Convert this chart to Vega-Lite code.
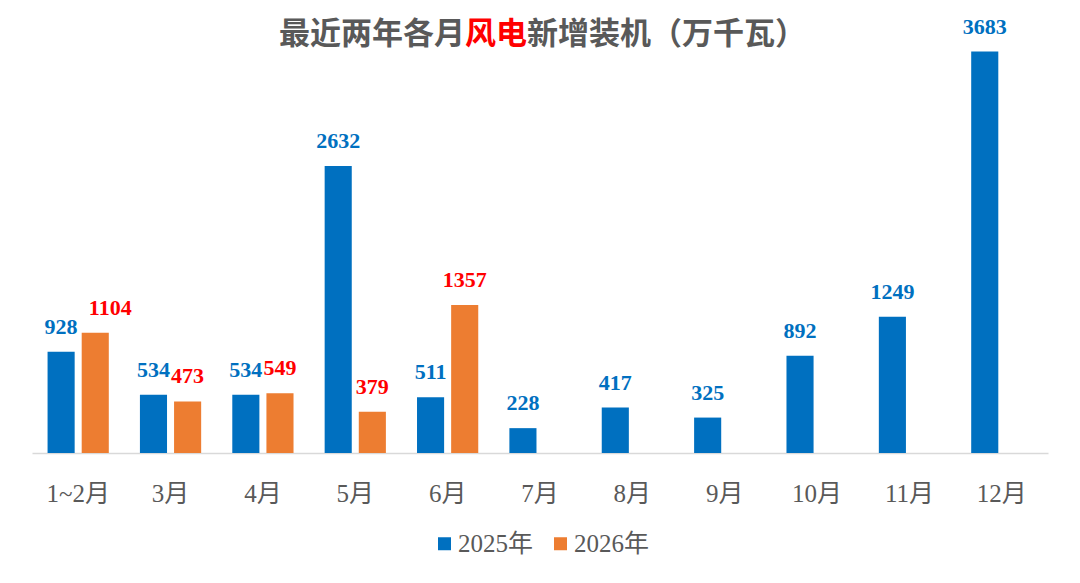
{
  "$schema": "https://vega.github.io/schema/vega-lite/v6.json",
  "width": 1016,
  "height": 436,
  "autosize": {"type": "none"},
  "padding": {"left": 32, "top": 17, "right": 32, "bottom": 130},
  "background": "white",
  "config": {"view": {"stroke": null}},
  "datasets": {
    "bars": [
      {"month": "1~2月", "series": "2025年", "value": 928},
      {"month": "1~2月", "series": "2026年", "value": 1104},
      {"month": "3月", "series": "2025年", "value": 534},
      {"month": "3月", "series": "2026年", "value": 473},
      {"month": "4月", "series": "2025年", "value": 534},
      {"month": "4月", "series": "2026年", "value": 549},
      {"month": "5月", "series": "2025年", "value": 2632},
      {"month": "5月", "series": "2026年", "value": 379},
      {"month": "6月", "series": "2025年", "value": 511},
      {"month": "6月", "series": "2026年", "value": 1357},
      {"month": "7月", "series": "2025年", "value": 228},
      {"month": "8月", "series": "2025年", "value": 417},
      {"month": "9月", "series": "2025年", "value": 325},
      {"month": "10月", "series": "2025年", "value": 892},
      {"month": "11月", "series": "2025年", "value": 1249},
      {"month": "12月", "series": "2025年", "value": 3683}
    ]
  },
  "layer": [
    {
      "data": {"name": "bars"},
      "mark": {"type": "bar"},
      "encoding": {
        "x": {
          "field": "month", "type": "nominal", "sort": null,
          "scale": {"paddingInner": 0, "paddingOuter": 0},
          "axis": {
            "title": null, "labelAngle": 0, "ticks": false, "grid": false,
            "domainColor": "#D9D9D9", "domainWidth": 1.5,
            "labelFont": "Liberation Serif, Noto Sans CJK SC",
            "labelFontSize": 25, "labelColor": "#595959", "labelPadding": 28
          }
        },
        "xOffset": {
          "field": "series", "type": "nominal",
          "scale": {"domain": ["2025年", "2026年"], "paddingInner": 0.206, "paddingOuter": 0.456}
        },
        "y": {
          "field": "value", "type": "quantitative",
          "scale": {"domain": [0, 4000], "nice": false},
          "axis": null
        },
        "color": {
          "field": "series", "type": "nominal",
          "scale": {"domain": ["2025年", "2026年"], "range": ["#0070C0", "#ED7D31"]},
          "legend": {
            "title": null, "orient": "none", "legendX": 400, "legendY": 514,
            "direction": "horizontal", "padding": 0,
            "symbolType": "square", "symbolSize": 169, "symbolStrokeWidth": 0,
            "labelFont": "Liberation Serif, Noto Sans CJK SC", "labelFontSize": 25,
            "labelColor": "#595959", "labelOffset": 1, "columnPadding": 14
          }
        }
      }
    },
    {
      "data": {"name": "bars"},
      "transform": [{"filter": "!(datum.month === '1~2月' && datum.series === '2026年')"}],
      "mark": {
        "type": "text", "baseline": "bottom", "dy": -13,
        "font": "Liberation Serif", "fontWeight": "bold", "fontSize": 22
      },
      "encoding": {
        "x": {"field": "month", "type": "nominal", "sort": null},
        "xOffset": {"field": "series", "type": "nominal"},
        "y": {"field": "value", "type": "quantitative"},
        "text": {"field": "value", "type": "quantitative"},
        "color": {
          "condition": {"test": "datum.series === '2025年'", "value": "#0070C0"},
          "value": "#FF0000"
        }
      }
    },
    {
      "data": {"name": "bars"},
      "transform": [{"filter": "datum.month === '1~2月' && datum.series === '2026年'"}],
      "mark": {
        "type": "text", "baseline": "bottom", "dy": -13, "dx": 15,
        "font": "Liberation Serif", "fontWeight": "bold", "fontSize": 22, "color": "#FF0000"
      },
      "encoding": {
        "x": {"field": "month", "type": "nominal", "sort": null},
        "xOffset": {"field": "series", "type": "nominal"},
        "y": {"field": "value", "type": "quantitative"},
        "text": {"field": "value", "type": "quantitative"}
      }
    },
    {
      "data": {"values": [{"t": "最近两年各月"}]},
      "mark": {
        "type": "text", "align": "right", "baseline": "middle", "dx": -75,
        "font": "Noto Sans CJK SC", "fontWeight": "bold", "fontSize": 31, "color": "#595959"
      },
      "encoding": {
        "x": {"datum": "7月"},
        "y": {"datum": 3835},
        "text": {"field": "t"}
      }
    },
    {
      "data": {"values": [{"t": "风电"}]},
      "mark": {
        "type": "text", "align": "center", "baseline": "middle", "dx": -44,
        "font": "Noto Sans CJK SC", "fontWeight": "bold", "fontSize": 31, "color": "#FF0000"
      },
      "encoding": {
        "x": {"datum": "7月"},
        "y": {"datum": 3835},
        "text": {"field": "t"}
      }
    },
    {
      "data": {"values": [{"t": "新增装机（万千瓦）"}]},
      "mark": {
        "type": "text", "align": "left", "baseline": "middle", "dx": -13,
        "font": "Noto Sans CJK SC", "fontWeight": "bold", "fontSize": 31, "color": "#595959"
      },
      "encoding": {
        "x": {"datum": "7月"},
        "y": {"datum": 3835},
        "text": {"field": "t"}
      }
    }
  ]
}
